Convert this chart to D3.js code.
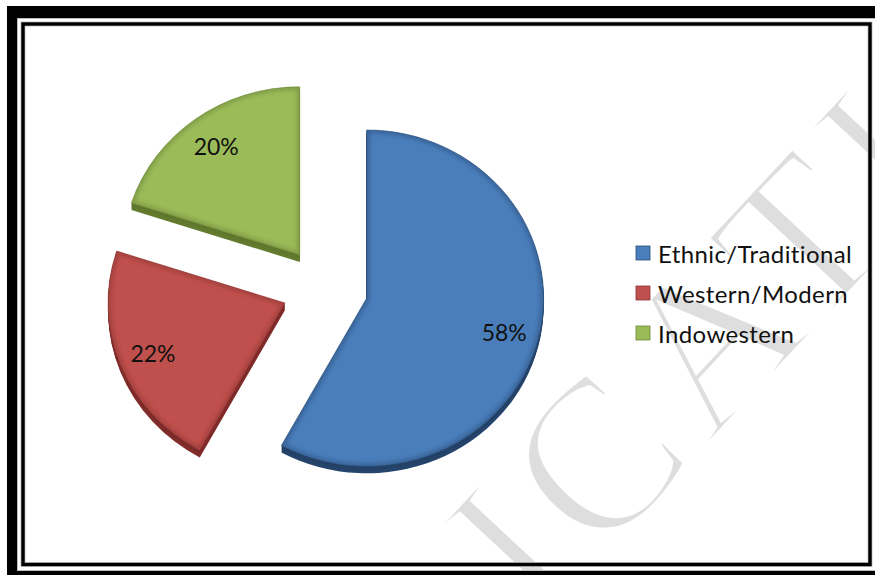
<!DOCTYPE html>
<html>
<head>
<meta charset="utf-8">
<script src="https://cdn.jsdelivr.net/npm/d3@7"></script>
<style>
  html, body { margin: 0; padding: 0; background: #fff; }
  svg { display: block; }
  text { font-variant-ligatures: none; }
</style>
</head>
<body>
<svg id="chart" width="875" height="575"></svg>
<script>
// Clothing preference shares
const categories = ["Ethnic/Traditional", "Western/Modern", "Indowestern"];
const values = [58, 22, 20];
const labels = ["58%", "22%", "20%"];

// Face, side and rim colours per slice
const faceColors = ["#4a7ebb", "#c0504d", "#9bbb59"];
const sideColors = ["#233f63", "#7a2a28", "#5d752b"];
const rimColors  = ["#2a4d78", "#8a3432", "#6b8537"];

const W = 875, H = 575;
const svg = d3.select("#chart");
const defs = svg.append("defs");

svg.append("rect").attr("x", 0).attr("y", 0).attr("width", W).attr("height", H).attr("fill", "#fff");

// Faint publisher watermark (filled glyphs, thinned with a white outline)
svg.append("text")
  .attr("transform", "translate(540,626) rotate(-47)")
  .attr("font-family", "'Liberation Serif', serif")
  .attr("font-size", 218)
  .attr("fill", "#dedede")
  .attr("stroke", "#fff")
  .attr("stroke-width", 6)
  .attr("letter-spacing", 14)
  .text("ICATIO");

// Document frame: heavy outer border with a thin inner rule
svg.append("path")
  .attr("fill", "#000")
  .attr("fill-rule", "evenodd")
  .attr("d", "M7,6H900V600H7Z M17,18H885V571H17Z");
svg.append("rect")
  .attr("x", 17.5).attr("y", 18.5).attr("width", 880).attr("height", 552)
  .attr("fill", "none").attr("stroke", "#bdbdbd").attr("stroke-width", 1);
svg.append("rect")
  .attr("x", 23).attr("y", 24).attr("width", 847).attr("height", 540.5)
  .attr("fill", "none").attr("stroke", "#c8c8c8").attr("stroke-width", 5);
svg.append("rect")
  .attr("x", 23).attr("y", 24).attr("width", 847).attr("height", 540.5)
  .attr("fill", "none").attr("stroke", "#000").attr("stroke-width", 3.4);

// Exploded, slightly tilted pie
const cx = 325, cy = 288;     // pie centre
const rx = 177;               // radius
const tilt = 0.95;            // vertical squash of the tilted disc
const explode = 43;           // distance each slice is pulled out
const depth = 7;              // visible thickness of the disc
const labelR = 142;           // radial position of the value labels

const pie = d3.pie().sort(null).value(d => d)(values);
const arc = d3.arc().innerRadius(0).outerRadius(rx);

const blur = defs.append("filter").attr("id", "soft")
  .attr("x", "-20%").attr("y", "-20%").attr("width", "140%").attr("height", "140%");
blur.append("feGaussianBlur").attr("stdDeviation", 2.2);

const sliceLayer = svg.append("g");
const labelLayer = svg.append("g");

pie.forEach((p, i) => {
  const mid = (p.startAngle + p.endAngle) / 2;
  const ox = cx + explode * Math.sin(mid);
  const oy = cy - explode * Math.cos(mid) * tilt;
  const d = arc(p);

  const g = sliceLayer.append("g");

  // side wall: stacked copies shifted downward
  for (let s = depth; s >= 1; s--) {
    g.append("path")
      .attr("transform", `translate(${ox},${oy + s}) scale(1,${tilt})`)
      .attr("d", d)
      .attr("fill", d3.interpolateRgb(sideColors[i], rimColors[i])(s / depth * 0.5));
  }

  // top face
  const top = g.append("g").attr("transform", `translate(${ox},${oy}) scale(1,${tilt})`);
  const clipId = "clip" + i;
  defs.append("clipPath").attr("id", clipId).append("path").attr("d", d);
  top.append("path").attr("d", d).attr("fill", faceColors[i]);
  top.append("g").attr("clip-path", `url(#${clipId})`)
    .append("path").attr("d", d)
    .attr("fill", "none")
    .attr("stroke", rimColors[i])
    .attr("stroke-width", 6)
    .attr("opacity", 0.55)
    .attr("filter", "url(#soft)");
  top.append("path").attr("d", d)
    .attr("fill", "none")
    .attr("stroke", rimColors[i])
    .attr("stroke-width", 0.8)
    .attr("opacity", 0.7);

  // value label
  labelLayer.append("text")
    .attr("x", ox + labelR * Math.sin(mid))
    .attr("y", oy - labelR * Math.cos(mid) * tilt)
    .attr("text-anchor", "middle")
    .attr("dominant-baseline", "central")
    .attr("font-family", "Lato, 'Open Sans', sans-serif")
    .attr("font-size", 23)
    .attr("fill", "#111")
    .text(labels[i]);
});

// Legend
const legendY = d3.scaleBand().domain(categories).range([233, 353]);
const legend = svg.append("g");
categories.forEach((c, i) => {
  const y = legendY(c) + legendY.bandwidth() / 2;
  legend.append("rect")
    .attr("x", 636).attr("y", y - 7).attr("width", 14).attr("height", 14)
    .attr("fill", faceColors[i])
    .attr("stroke", rimColors[i]).attr("stroke-width", 0.8);
  legend.append("text")
    .attr("x", 658).attr("y", y)
    .attr("dominant-baseline", "central")
    .attr("font-family", "Lato, 'Open Sans', sans-serif")
    .attr("font-size", 24)
    .attr("letter-spacing", 0.4)
    .attr("fill", "#111")
    .text(c);
});
</script>
</body>
</html>
